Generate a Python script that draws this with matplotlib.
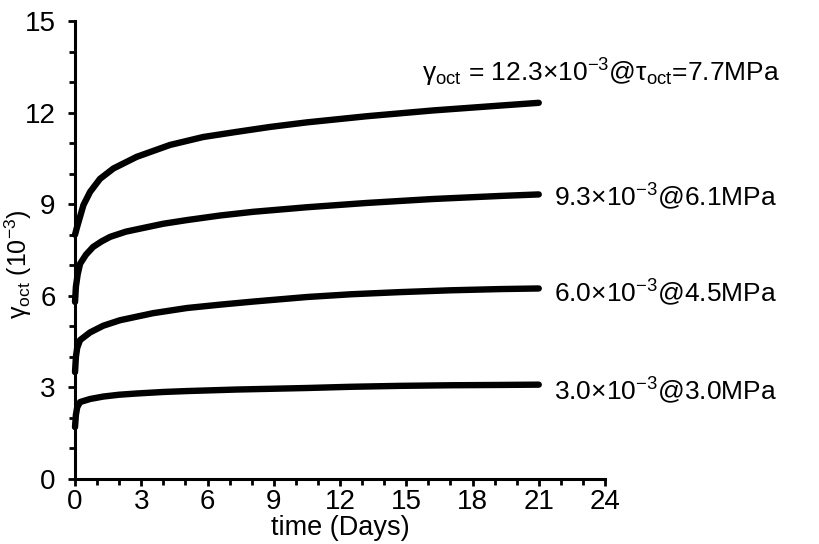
import matplotlib
matplotlib.use("Agg")
import matplotlib.pyplot as plt
from matplotlib.ticker import MultipleLocator

plt.rcParams['font.family'] = ['Liberation Sans', 'DejaVu Sans']
plt.rcParams['mathtext.fontset'] = 'custom'
plt.rcParams['mathtext.rm'] = 'Liberation Sans'
plt.rcParams['mathtext.it'] = 'Liberation Sans:italic'

# time (days) and octahedral shear strain (1e-3)
t1 = [0, 0.08, 0.38, 0.68, 1.13, 1.74, 2.79, 4.3, 5.8, 7.33, 8.83, 10.5,
      13.2, 16.2, 19.25, 21.0]
g1 = [8.0, 8.22, 8.97, 9.4, 9.83, 10.17, 10.55, 10.94, 11.2, 11.37, 11.53, 11.68,
      11.88, 12.07, 12.23, 12.32]

t2 = [0, 0.04, 0.12, 0.23, 0.5, 0.82, 1.2, 1.59, 2.3, 3.08, 4.0, 5.07, 6.57,
      8.06, 10.5, 13.2, 16.2, 19.25, 21.0]
g2 = [5.8, 6.3, 6.7, 7.05, 7.35, 7.6, 7.78, 7.93, 8.1, 8.22, 8.36, 8.48, 8.63,
      8.75, 8.9, 9.04, 9.17, 9.27, 9.32]

t3 = [0, 0.04, 0.1, 0.23, 0.68, 1.28, 2.04, 3.53, 5.07, 6.57, 8.06, 10.5,
      12.5, 14.7, 17.0, 19.25, 21.0]
g3 = [3.5, 4.0, 4.3, 4.55, 4.8, 5.02, 5.2, 5.43, 5.6, 5.71, 5.81, 5.96,
      6.05, 6.12, 6.18, 6.22, 6.24]

t4 = [0, 0.04, 0.1, 0.23, 0.68, 1.28, 2.0, 2.79, 4.0, 5.07, 7.33, 10.5, 12.5,
      14.7, 17.0, 19.25, 21.0]
g4 = [1.7, 2.1, 2.35, 2.52, 2.62, 2.7, 2.76, 2.8, 2.85, 2.88, 2.93, 2.98, 3.02,
      3.05, 3.07, 3.08, 3.09]

series = [(t1, g1), (t2, g2), (t3, g3), (t4, g4)]

labels = ["γ$_{\\mathrm{oct}}$ = 12.3×10$^{-3}$@τ$_{\\mathrm{oct}}$=7.7MPa",
          "9.3×10$^{-3}$@6.1MPa",
          "6.0×10$^{-3}$@4.5MPa",
          "3.0×10$^{-3}$@3.0MPa"]
label_x = [15.7, 21.7, 21.7, 21.7]
label_y = [13.3, 9.24, 6.1, 2.9]

fig = plt.figure(figsize=(8.19, 5.44), dpi=100)
ax = fig.add_axes([0.0916, 0.1195, 0.6471, 0.8419])

for t, g in series:
    ax.plot(t, g, color='black', lw=4.6, solid_capstyle='round',
            solid_joinstyle='round', clip_on=False)

for x, y, s in zip(label_x, label_y, labels):
    ax.text(x, y, s, fontsize=19, va='center', ha='left')

ax.set_xlim(0, 24)
ax.set_ylim(0, 15)
ax.xaxis.set_major_locator(MultipleLocator(3))
ax.xaxis.set_minor_locator(MultipleLocator(1))
ax.yaxis.set_major_locator(MultipleLocator(3))
ax.yaxis.set_minor_locator(MultipleLocator(1))

for side in ['top', 'right']:
    ax.spines[side].set_visible(False)
for side in ['left', 'bottom']:
    ax.spines[side].set_linewidth(2.2)

ax.tick_params(which='major', direction='out', length=5, width=2, labelsize=20)
ax.tick_params(which='minor', direction='out', length=4, width=2)
ax.tick_params(axis='y', pad=9)
ax.tick_params(axis='x', pad=2)

ax.set_xlabel("time (Days)", fontsize=19.5, labelpad=0)
ax.set_ylabel("γ$_{\\mathrm{oct}}$ (10$^{-3}$)", fontsize=18)
ax.yaxis.set_label_coords(-0.078, 0.47)

fig.savefig("out.png", dpi=100)
